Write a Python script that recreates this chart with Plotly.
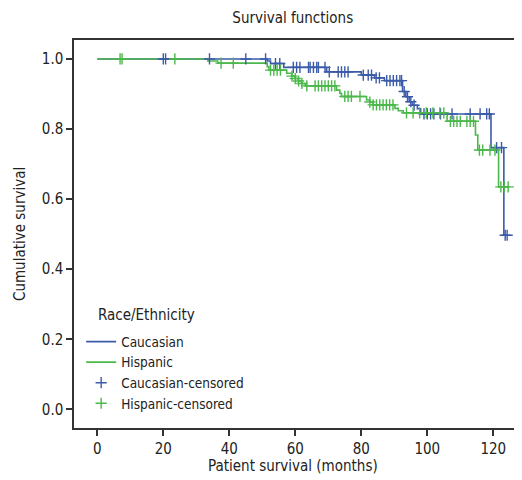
import numpy as np
import plotly.graph_objects as go

# Kaplan-Meier step data (time in months, cumulative survival)
cau_time = [0, 51.5, 52.5, 56.5, 69.5, 80.0, 84.0, 87.0, 92.5, 93.5, 94.5, 95.5, 97.0, 98.0, 119.3, 123.2, 124.3]
cau_surv = [1.0, 0.994, 0.987, 0.976, 0.963, 0.954, 0.946, 0.938, 0.907, 0.892, 0.878, 0.868, 0.858, 0.843, 0.747, 0.497, 0.497]

his_time = [0, 33.5, 36.5, 51.5, 52.0, 57.4, 58.9, 59.9, 60.9, 61.9, 63.0, 72.5, 73.5, 74.0,
            81.6, 82.6, 83.6, 90.2, 91.2, 92.7, 106.0, 114.6, 115.3, 121.6, 124.8]
his_surv = [1.0, 0.994, 0.988, 0.978, 0.968, 0.959, 0.951, 0.944, 0.937, 0.930, 0.923, 0.911, 0.902, 0.893,
            0.883, 0.877, 0.869, 0.859, 0.852, 0.846, 0.822, 0.783, 0.740, 0.635, 0.635]

cau_cens = [20.0, 20.7, 34.0, 45.0, 51.0, 54.0, 55.3, 59.4, 60.4, 61.4, 64.0, 64.5, 65.5, 66.5, 67.0,
            69.0, 70.3, 73.0, 74.0, 75.0, 76.0, 80.6, 82.1, 83.1, 84.5, 85.5, 87.7, 88.7, 89.7, 90.7,
            91.7, 92.2, 93.0, 94.0, 95.0, 96.0, 99.0, 100.0, 101.0, 102.0, 104.0, 107.5, 113.0, 116.0,
            118.0, 118.8, 121.0, 122.5, 123.6, 124.2]
his_cens = [6.9, 7.5, 23.5, 37.5, 41.2, 52.5, 53.5, 54.5, 55.5, 59.0, 60.0, 61.0, 62.0, 63.5, 66.0,
            67.0, 68.0, 69.0, 70.0, 71.0, 72.0, 75.0, 76.0, 77.0, 79.6, 82.6, 83.6, 84.6, 85.6, 86.6,
            87.6, 88.6, 89.6, 93.7, 95.7, 97.7, 99.7, 101.7, 103.8, 105.0, 107.0, 108.0, 109.0, 110.0,
            112.0, 113.0, 114.0, 115.8, 116.8, 119.0, 120.5, 122.3, 123.3, 124.5]

x_ticks = [0, 20, 40, 60, 80, 100, 120]
y_ticks = [0.0, 0.2, 0.4, 0.6, 0.8, 1.0]

BLUE = "#3b5ba8"
GREEN = "#4cb84c"
FONT = "DejaVu Sans Condensed, Liberation Sans Narrow, Roboto Condensed, sans-serif"
TXT = "#222222"


def surv_at(times, survs, t):
    idx = np.searchsorted(np.array(times), np.array(t), side="right") - 1
    return np.array(survs)[idx]


fig = go.Figure()
fig.add_trace(go.Scatter(x=cau_time, y=cau_surv, mode="lines", line_shape="hv",
                         line=dict(color=BLUE, width=1.6), name="Caucasian"))
fig.add_trace(go.Scatter(x=his_time, y=his_surv, mode="lines", line_shape="hv",
                         line=dict(color=GREEN, width=1.6), name="Hispanic"))
fig.add_trace(go.Scatter(x=cau_cens, y=surv_at(cau_time, cau_surv, cau_cens), mode="markers",
                         marker=dict(symbol="cross-thin", size=8, line=dict(color=BLUE, width=1.4)),
                         name="Caucasian-censored"))
fig.add_trace(go.Scatter(x=his_cens, y=surv_at(his_time, his_surv, his_cens), mode="markers",
                         marker=dict(symbol="cross-thin", size=8, line=dict(color=GREEN, width=1.4)),
                         name="Hispanic-censored"))

# page body has an 8px default margin; figure is sized to fill the rest of the 522x480 window
fig.update_layout(
    width=514, height=472,
    margin=dict(l=66, r=0, t=32, b=52, autoexpand=False),
    paper_bgcolor="white", plot_bgcolor="white",
    font=dict(family=FONT, size=15, color=TXT),
    title=dict(text="Survival functions", x=0.554, xanchor="center", y=0.979, yanchor="middle",
               font=dict(size=15, color=TXT)),
    showlegend=True,
    legend=dict(x=0.016, y=0.262, xanchor="left", yanchor="top", bgcolor="rgba(0,0,0,0)",
                font=dict(size=13.5, color=TXT), tracegroupgap=0),
    annotations=[
        dict(text="Race/Ethnicity", xref="paper", yref="paper", x=0.049, y=0.291,
             xanchor="left", yanchor="middle", showarrow=False, font=dict(size=15, color=TXT)),
        dict(text="Patient survival (months)", xref="paper", yref="paper", x=0.489, y=-0.098,
             xanchor="center", yanchor="middle", showarrow=False, font=dict(size=15, color=TXT)),
        dict(text="Cumulative survival", xref="paper", yref="paper", x=-0.1205, y=0.5,
             xanchor="center", yanchor="middle", textangle=-90, showarrow=False,
             font=dict(size=15, color=TXT)),
    ],
)
fig.update_xaxes(range=[-7.06, 128.7], tickvals=x_ticks, ticks="outside", ticklen=6, tickwidth=1.5,
                 tickcolor="#333333", showline=True, linecolor="#333333", linewidth=1.5,
                 mirror=True, showgrid=False, zeroline=False, automargin=False)
fig.update_yaxes(range=[-0.053, 1.054], tickvals=y_ticks, tickformat=".1f", ticks="outside", ticklen=6,
                 tickwidth=1.5, tickcolor="#333333", showline=True, linecolor="#333333", linewidth=1.5,
                 showgrid=False, zeroline=False, automargin=False)

fig.write_html("out.html")
